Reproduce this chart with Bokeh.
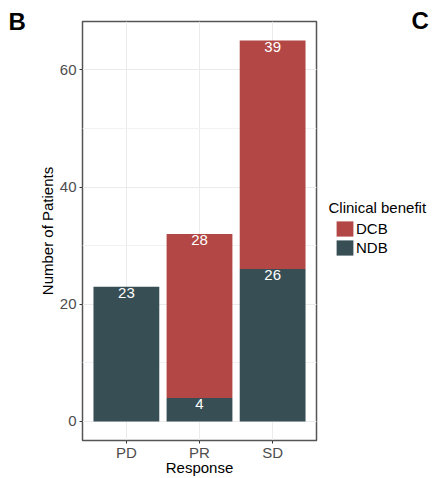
from bokeh.plotting import figure
from bokeh.layouts import row
from bokeh.models import (ColumnDataSource, FactorRange, SingleIntervalTicker, Legend,
                          LegendItem, Label, Range1d)
from bokeh.embed import file_html
from bokeh.resources import INLINE
from bokeh.core.properties import value

# ---- data ----
responses = ["PD", "PR", "SD"]
ndb = [23, 4, 26]
dcb = [0, 28, 39]
groups = ["DCB", "NDB"]
group_colors = ["#B24745", "#374E55"]
legend_title = "Clinical benefit"
x_title = "Response"
y_title = "Number of Patients"

FONT = "Liberation Sans"
FS = "15px"

src = ColumnDataSource(dict(response=responses, NDB=ndb, DCB=dcb))

p = figure(width=318, height=478,
           x_range=FactorRange(*responses, range_padding=0.1, range_padding_units="absolute"),
           y_range=Range1d(-3.25, 68.25),
           output_backend="svg", toolbar_location=None,
           min_border_left=82, min_border_right=2, min_border_top=21, min_border_bottom=37)

renderers = p.vbar_stack(["NDB", "DCB"], x="response", width=0.9, source=src,
                         color=[group_colors[1], group_colors[0]], line_color=None)

# labels at the top of each segment
lx, ly, lt = [], [], []
for i, r in enumerate(responses):
    if ndb[i] > 0:
        lx.append(r); ly.append(ndb[i]); lt.append(str(ndb[i]))
    if dcb[i] > 0:
        lx.append(r); ly.append(ndb[i] + dcb[i]); lt.append(str(dcb[i]))
lsrc = ColumnDataSource(dict(x=lx, y=ly, t=lt))
p.text(x="x", y="y", text="t", source=lsrc, text_color="white", text_align="center",
       text_baseline="top", y_offset=1, text_font=value(FONT), text_font_size=FS)

# axes
p.yaxis.ticker = SingleIntervalTicker(interval=20, num_minor_ticks=2)
for ax in (p.xaxis[0], p.yaxis[0]):
    ax.axis_line_color = None
    ax.major_tick_line_color = "#333333"
    ax.major_tick_in = 0
    ax.major_tick_out = 3
    ax.minor_tick_line_color = None
    ax.major_label_text_font = FONT
    ax.major_label_text_font_size = FS
    ax.major_label_text_color = "#4D4D4D"
    ax.major_label_standoff = 2
    ax.axis_label_text_font = FONT
    ax.axis_label_text_font_size = FS
    ax.axis_label_text_font_style = "normal"
    ax.axis_label_text_color = "black"
    ax.axis_label_standoff = 1
p.xaxis.major_label_standoff = 0
p.xaxis.axis_label_standoff = -5
p.xaxis.axis_label = x_title
p.yaxis.axis_label = y_title

p.xgrid.grid_line_color = "#EBEBEB"
p.ygrid.grid_line_color = "#EBEBEB"
p.ygrid.minor_grid_line_color = "#F2F2F2"
p.outline_line_color = "#555555"
p.outline_line_width = 1.5

# panel letter B (side-panel annotations are not clipped)
p.add_layout(Label(x=-10, y=406, x_units="screen", y_units="screen", text="B",
                   text_font=FONT, text_font_size="24px", text_font_style="bold",
                   text_color="black"), "left")

# ---- legend panel (second figure, frame aligned with the main one) ----
q = figure(width=114, height=478, x_range=FactorRange(*responses), y_range=Range1d(0, 1),
           output_backend="svg", toolbar_location=None, x_axis_type=None, y_axis_type=None,
           min_border=0, outline_line_color=None)
q.grid.visible = False
# same stacked series (hidden here): they only feed the legend keys
kr = q.vbar_stack(["NDB", "DCB"], x="response", width=0.9, source=src,
                  color=[group_colors[1], group_colors[0]], line_color=None)
for r in kr:
    r.visible = False
legend = Legend(items=[LegendItem(label=groups[0], renderers=[kr[1]]),
                       LegendItem(label=groups[1], renderers=[kr[0]])],
                location=(16, 183), border_line_color=None, background_fill_alpha=0,
                padding=0, margin=0, glyph_width=21, glyph_height=19, label_standoff=1,
                spacing=-1, label_text_font=FONT, label_text_font_size=FS,
                label_text_color="black", label_height=19, inactive_fill_alpha=0)
q.add_layout(legend)
q.add_layout(Label(x=10, y=225, x_units="screen", y_units="screen", text=legend_title,
                   text_font=FONT, text_font_size=FS, text_color="black"))
q.add_layout(Label(x=93, y=434, x_units="screen", y_units="screen", text="C",
                   text_font=FONT, text_font_size="24px", text_font_style="bold",
                   text_color="black"), "below")

layout = row(p, q, spacing=0)
open("out.html", "w").write(file_html(layout, INLINE))
